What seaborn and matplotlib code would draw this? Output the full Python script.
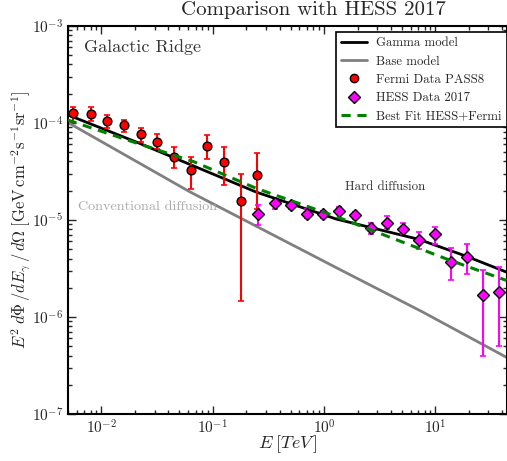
import numpy as np
import matplotlib
matplotlib.use('Agg')
import matplotlib.pyplot as plt
from matplotlib.lines import Line2D
import seaborn as sns

# Fermi PASS8 points (E in TeV, flux, lower / upper error-bar ends)
fermi_E = [0.00556, 0.0080, 0.0113, 0.0160, 0.0225, 0.0318, 0.0449, 0.0634, 0.0895, 0.126, 0.179, 0.252]
fermi_F = [1.26e-4, 1.24e-4, 1.05e-4, 9.4e-5, 7.6e-5, 6.4e-5, 4.5e-5, 3.27e-5, 5.8e-5, 3.95e-5, 1.56e-5, 2.9e-5]
fermi_lo = [1.03e-4, 1.05e-4, 8.9e-5, 8.0e-5, 6.4e-5, 5.4e-5, 3.4e-5, 2.1e-5, 4.25e-5, 2.29e-5, 1.46e-6, 1.3e-5]
fermi_hi = [1.47e-4, 1.44e-4, 1.21e-4, 1.08e-4, 8.9e-5, 7.6e-5, 5.6e-5, 4.5e-5, 7.5e-5, 5.6e-5, 2.95e-5, 4.9e-5]

# HESS 2017 points
hess_E = [0.255, 0.360, 0.502, 0.70, 0.975, 1.36, 1.89, 2.63, 3.66, 5.1, 7.13, 9.93, 13.7, 19.3, 26.9, 37.4]
hess_F = [1.15e-5, 1.48e-5, 1.41e-5, 1.16e-5, 1.14e-5, 1.24e-5, 1.11e-5, 8.2e-6, 9.25e-6, 8.07e-6,
          6.18e-6, 7.08e-6, 3.72e-6, 4.15e-6, 1.67e-6, 1.79e-6]
hess_lo = [8.8e-6, 1.31e-5, 1.28e-5, 1.05e-5, 1.05e-5, 1.15e-5, 1.02e-5, 7.1e-6, 8.07e-6, 7.08e-6,
           5.0e-6, 5.6e-6, 2.38e-6, 2.75e-6, 3.93e-7, 5.03e-7]
hess_hi = [1.42e-5, 1.57e-5, 1.50e-5, 1.28e-5, 1.23e-5, 1.36e-5, 1.21e-5, 9.3e-6, 1.09e-5, 9.3e-6,
           7.5e-6, 8.5e-6, 5.1e-6, 5.7e-6, 3.08e-6, 3.27e-6]

# model curves
gamma_E = [0.00498, 0.0224, 0.0675, 0.247, 1.29, 7.1, 19.0, 43.5]
gamma_F = [1.21e-4, 6.1e-5, 3.59e-5, 1.93e-5, 1.02e-5, 6.3e-6, 4.22e-6, 2.9e-6]

base_E = [0.00498, 0.0621, 1.38, 7.74, 43.5]
base_F = [1.01e-4, 1.95e-5, 3.09e-6, 1.12e-6, 3.84e-7]

fit_E = [0.00498, 0.0224, 0.0675, 0.247, 1.29, 5.5, 13.5, 43.5]
fit_F = [1.07e-4, 6.0e-5, 3.98e-5, 2.11e-5, 1.08e-5, 5.7e-6, 3.84e-6, 2.38e-6]

sns.set_style('ticks')
plt.rcParams['font.family'] = 'serif'
plt.rcParams['font.serif'] = ['cmr10', 'DejaVu Serif']
plt.rcParams['mathtext.fontset'] = 'cm'
plt.rcParams['axes.formatter.use_mathtext'] = True
plt.rcParams['axes.unicode_minus'] = False

fig = plt.figure(figsize=(5.07, 4.61), dpi=100)
ax = fig.add_axes([0.134, 0.102, 0.866, 0.842])

sns.lineplot(x=gamma_E, y=gamma_F, ax=ax, color='black', lw=2, sort=False)
sns.lineplot(x=base_E, y=base_F, ax=ax, color='gray', lw=2, sort=False)

ferr = [np.array(fermi_F) - np.array(fermi_lo), np.array(fermi_hi) - np.array(fermi_F)]
ax.errorbar(fermi_E, fermi_F, yerr=ferr, fmt='o', color='red', ecolor='red', mec='black',
            ms=6.3, elinewidth=1.5, capsize=2.5, capthick=1.2, zorder=4)
herr = [np.array(hess_F) - np.array(hess_lo), np.array(hess_hi) - np.array(hess_F)]
ax.errorbar(hess_E, hess_F, yerr=herr, fmt='D', color='magenta', ecolor='magenta', mec='black',
            ms=6.3, elinewidth=1.5, capsize=2.5, capthick=1.2, zorder=4)

sns.lineplot(x=fit_E, y=fit_F, ax=ax, color='green', lw=2.2, sort=False, zorder=5)
ax.lines[-1].set_dashes([3, 2.2])

ax.set_xscale('log')
ax.set_yscale('log')
ax.set_xlim(0.005, 44)
ax.set_ylim(1e-7, 1e-3)

ax.tick_params(which='both', direction='in', top=True, right=True, labelsize=11, width=1)
ax.tick_params(which='major', length=6)
ax.tick_params(which='minor', length=3)
for s in ax.spines.values():
    s.set_linewidth(1.5)
    s.set_color('black')

ax.set_title('Comparison with HESS 2017', fontsize=15, pad=8, x=0.56)
ax.set_xlabel(r'$E\;[TeV\,]$', fontsize=13, labelpad=-3)
ax.set_ylabel(r'$E^2\; d\Phi\,/dE_\gamma\,/\,d\Omega\;[\mathrm{GeV\,cm^{-2}s^{-1}sr^{-1}}]$', fontsize=12, labelpad=-1)

ax.text(0.036, 0.946, 'Galactic Ridge', transform=ax.transAxes, fontsize=13, color='#333333', va='center')
ax.text(0.023, 0.533, 'Conventional diffusion', transform=ax.transAxes, fontsize=10.2, color='#aaaaaa', va='center')
ax.text(0.632, 0.585, 'Hard diffusion', transform=ax.transAxes, fontsize=9.3, color='#333333', va='center')

handles = [
    Line2D([], [], color='black', lw=2),
    Line2D([], [], color='gray', lw=2),
    Line2D([], [], color='red', marker='o', mec='black', ms=6, ls='none'),
    Line2D([], [], color='magenta', marker='D', mec='black', ms=6, ls='none'),
    Line2D([], [], color='green', lw=2.2, dashes=[3, 2.2]),
]
labels = ['Gamma model', 'Base model', 'Fermi Data PASS8', 'HESS Data 2017', 'Best Fit HESS+Fermi']
leg = ax.legend(handles, labels, loc='upper right', bbox_to_anchor=(1.0, 0.984), fontsize=9.2,
                frameon=True, fancybox=False, framealpha=1, edgecolor='black', borderaxespad=0,
                handlelength=2.1, labelspacing=0.48, borderpad=0.4, handletextpad=0.7)
leg.get_frame().set_linewidth(1.2)

fig.savefig('out.png', dpi=100)
